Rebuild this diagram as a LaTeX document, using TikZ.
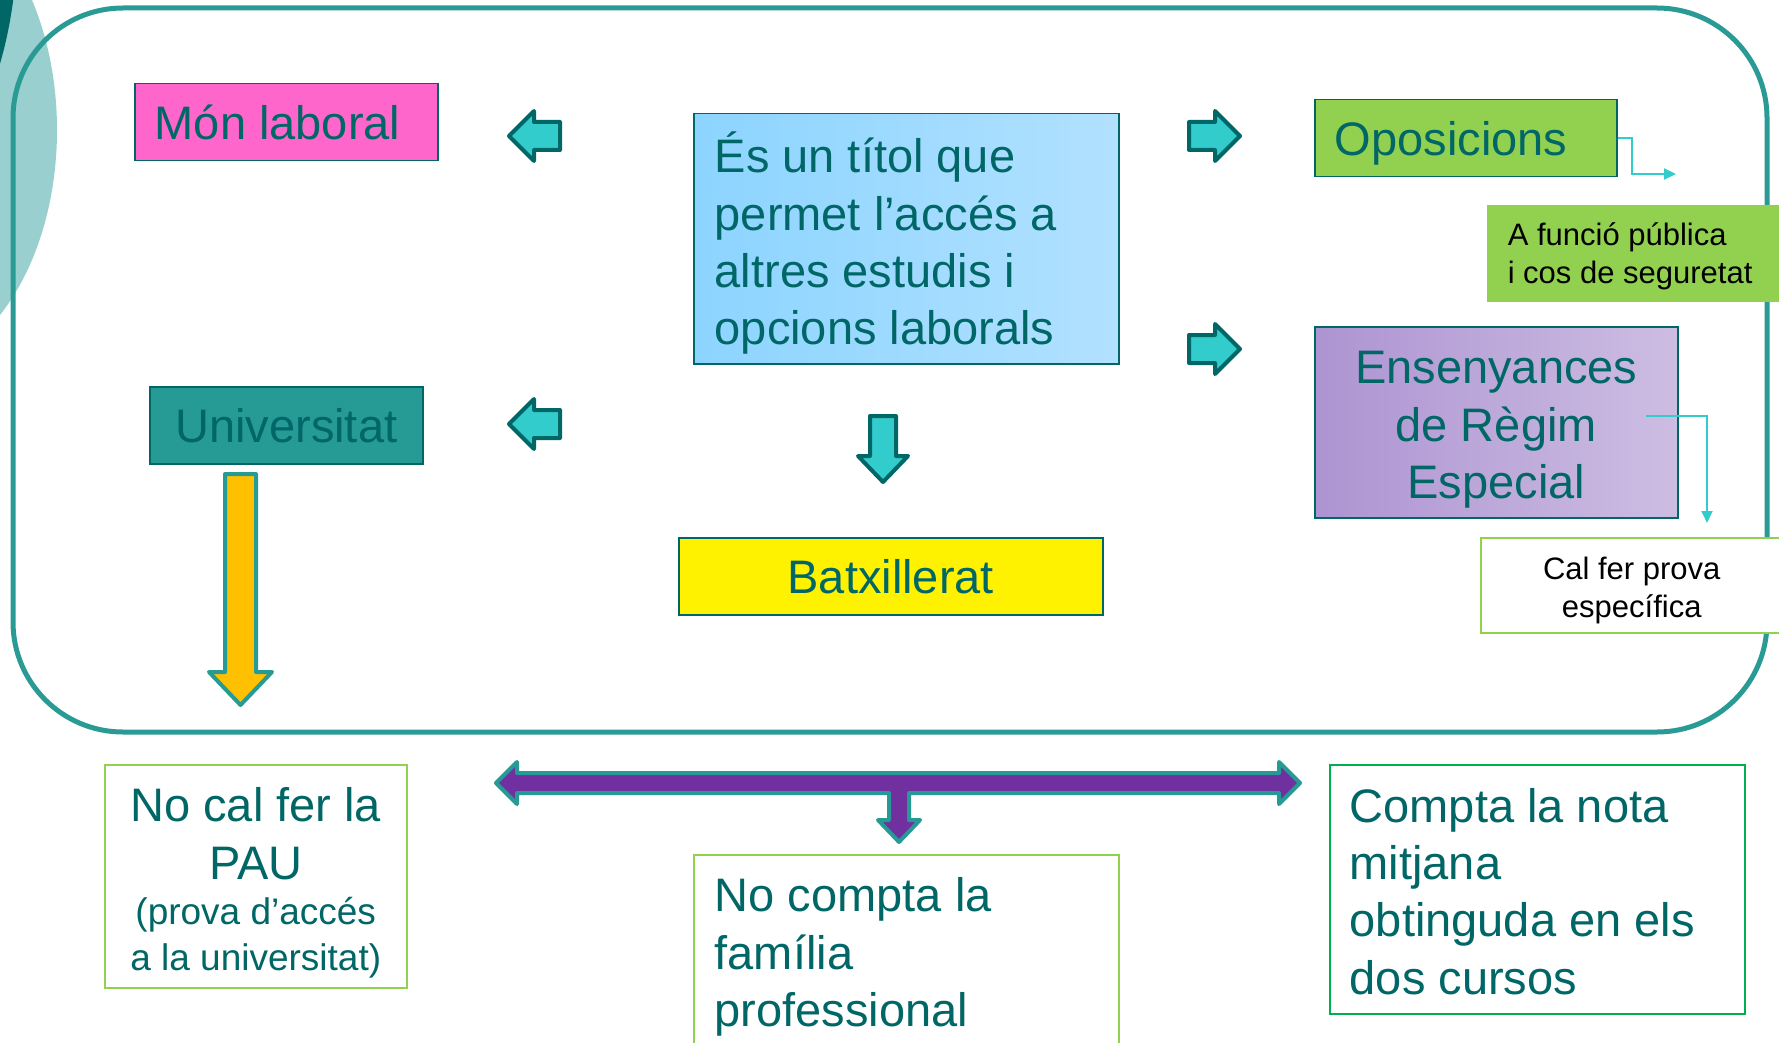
\documentclass[tikz,border=0pt]{standalone}
\usepackage{fontspec}
\setmainfont{Liberation Sans}
\usetikzlibrary{arrows.meta}

\definecolor{dteal}{HTML}{006666}
\definecolor{frameteal}{HTML}{2A9A95}
\definecolor{paleteal}{HTML}{9ACFCF}
\definecolor{pinkbox}{HTML}{FF66CC}
\definecolor{greenbox}{HTML}{92D050}
\definecolor{greenline}{HTML}{00B050}
\definecolor{tealbox}{HTML}{269B96}
\definecolor{blueleft}{HTML}{8CD4FF}
\definecolor{blueright}{HTML}{B2E1FF}
\definecolor{lilacleft}{HTML}{AD94D2}
\definecolor{lilacright}{HTML}{CDBDE2}
\definecolor{cyanarrow}{HTML}{33CCCC}
\definecolor{goldarrow}{HTML}{FFC000}
\definecolor{purplearrow}{HTML}{7030A0}

\newcommand{\bigtxt}{\fontsize{47pt}{57.3pt}\selectfont}
\newcommand{\midtxt}{\fontsize{37pt}{45.5pt}\selectfont}
\newcommand{\smalltxt}{\fontsize{31pt}{38pt}\selectfont}

\tikzset{
  box/.style={draw=dteal, line width=1.5pt, inner xsep=20pt, inner ysep=0pt,
    text=dteal, font=\bigtxt, anchor=north west},
  notebox/.style={draw=greenbox, line width=1.5pt, fill=white, inner xsep=20pt,
    inner ysep=0pt, font=\bigtxt, anchor=north west},
  % first baseline #1 below the top of a box #2 high
  baseline at/.style 2 args={text height=#1, text depth=#2-#1, minimum height=#2},
  frame/.style={draw=frameteal, line width=5pt, rounded corners=110pt},
  blockarrow/.style={draw=dteal, fill=cyanarrow, line width=4pt, line join=round},
  thinarrow/.style={draw=cyanarrow, line width=2pt, -{Triangle[length=12pt,width=11pt]}}
}

\begin{document}
\begin{tikzpicture}[x=1pt,y=-1pt]
\useasboundingbox (0,0) rectangle (1779,1043);

%% background
\fill[paleteal] (-100,130) ellipse (157 and 240); % pale shape top left
\fill[dteal] (-150,-60) ellipse (167 and 281); % dark shape top left
\draw[frame] (13,8) rectangle (1767,732); % rounded frame

%% boxes
\node[box, fill=pinkbox, minimum width=303pt, minimum height=77pt, text width=263pt, align=flush left] (mon) at (134,83) {Món laboral};
\node[box, left color=blueleft, right color=blueright, minimum width=425pt, baseline at={59pt}{250pt}, text width=383pt, inner xsep=21pt, align=flush left] (titol) at (693,113)
  {És un títol que\\permet l’accés a\\altres estudis i\\opcions laborals};
\node[box, fill=greenbox, minimum width=302pt, baseline at={56pt}{77pt}, text width=262pt, align=flush left] (opos) at (1314,99) {Oposicions};
\node[box, draw=none, fill=greenbox, text=black, font=\smalltxt, minimum width=304pt, baseline at={41pt}{97pt}, text width=264pt, inner xsep=21pt, align=flush left] (funcio) at (1486,204)
  {A funció pública\\i cos de seguretat};
\node[box, left color=lilacleft, right color=lilacright, minimum width=363pt, baseline at={57pt}{191pt}, text width=343pt, inner xsep=10pt, align=flush center] (ens) at (1314,326)
  {Ensenyances\\de Règim\\Especial};
\node[notebox, text=black, font=\smalltxt, minimum width=302pt, baseline at={42pt}{95pt}, text width=282pt, inner xsep=10pt, align=flush center] (prova) at (1480,537)
  {Cal fer prova\\específica};
\node[box, fill=tealbox, minimum width=273pt, minimum height=77pt, text width=253pt, inner xsep=10pt, align=flush center] (univ) at (149,386) {Universitat};
\node[box, fill=yellow, minimum width=424pt, minimum height=77pt, text width=404pt, inner xsep=10pt, align=flush center] (batx) at (678,537) {Batxillerat};
\node[notebox, text=dteal, minimum width=302pt, baseline at={57pt}{223pt}, text width=282pt, inner xsep=10pt, align=flush center] (pau) at (104,764)
  {{\bigtxt No cal fer la\\PAU\par}{\midtxt (prova d’accés\\a la universitat)\par}};
\node[notebox, text=dteal, minimum width=425pt, baseline at={57pt}{198pt}, text width=383pt, inner xsep=21pt, align=flush left] (nocompta) at (693,854)
  {No compta la\\família\\professional};
\node[notebox, draw=greenline, text=dteal, minimum width=415pt, baseline at={57.5pt}{249pt}, text width=375pt, align=flush left] (compta) at (1329,764)
  {Compta la nota\\mitjana\\obtinguda en els\\dos cursos};

%% block arrows round the centre box
\draw[blockarrow] (560,122) -- ++(-26,0) -- ++(0,-11) -- ++(-25,25) -- ++(25,25) -- ++(0,-11) -- ++(26,0) -- cycle; % to Món laboral
\draw[blockarrow] (560,410) -- ++(-26,0) -- ++(0,-11) -- ++(-25,25) -- ++(25,25) -- ++(0,-11) -- ++(26,0) -- cycle; % to Universitat
\draw[blockarrow] (1189,122) -- ++(26,0) -- ++(0,-11) -- ++(25,25) -- ++(-25,25) -- ++(0,-11) -- ++(-26,0) -- cycle; % to Oposicions
\draw[blockarrow] (1189,335) -- ++(26,0) -- ++(0,-11) -- ++(25,25) -- ++(-25,25) -- ++(0,-11) -- ++(-26,0) -- cycle; % to Ensenyances
\draw[blockarrow] (870,416) -- ++(0,40) -- ++(-12,0) -- ++(25,26) -- ++(25,-26) -- ++(-12,0) -- ++(0,-40) -- cycle; % to Batxillerat

%% yellow arrow under Universitat
\draw[fill=goldarrow, draw=tealbox, line width=4pt, line join=round]
  (225,474) -- (225,672) -- (209,672) -- (240.5,705) -- (272,672) -- (256,672) -- (256,474) -- cycle;

%% purple arrow at the bottom
\draw[fill=purplearrow, draw=tealbox, line width=4pt, line join=round]
  (496,783) -- (517,762) -- (517,773) -- (1279,773) -- (1279,762) -- (1300,783) -- (1279,804) -- (1279,793)
  -- (909,793) -- (909,820) -- (920,820) -- (899,842) -- (878,820) -- (889,820) -- (889,793)
  -- (517,793) -- (517,804) -- cycle;

%% thin connectors
\coordinate (opostip) at (1676,174);
\coordinate (ensfrom) at (1646,416);
\coordinate (enstip) at (1707,523);
\draw[thinarrow] (opos.east) -- ++(14,0) |- (opostip); % Oposicions
\draw[thinarrow] (ensfrom) -| (enstip); % Ensenyances

\end{tikzpicture}
\end{document}
